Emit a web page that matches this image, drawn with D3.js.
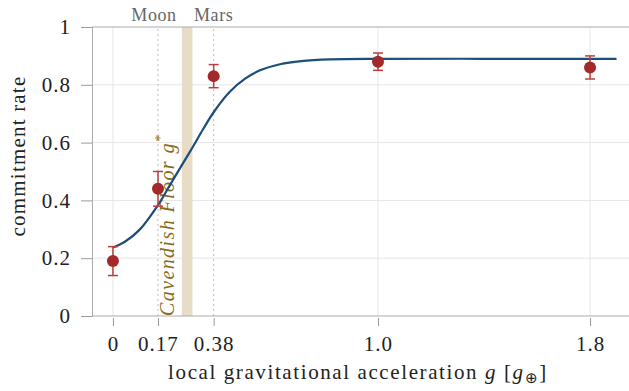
<!DOCTYPE html>
<html>
<head>
<meta charset="utf-8">
<script src="https://cdn.jsdelivr.net/npm/d3@7"></script>
<style>
  body { margin: 0; background: #fff; }
  text { font-family: "Liberation Serif", serif; }
</style>
</head>
<body>
<script>
// observed commitment rates
const gValues = [0, 0.17, 0.38, 1.0, 1.8];
const rates = [0.19, 0.44, 0.83, 0.88, 0.86];
const rateErr = [0.05, 0.06, 0.04, 0.03, 0.04];

// fitted curve
const curveX = [0, 0.045, 0.10, 0.17, 0.215, 0.26, 0.30, 0.34, 0.38, 0.44, 0.50, 0.555, 0.63, 0.71, 0.82, 1.0, 1.4, 1.9];
const curveY = [0.237, 0.257, 0.298, 0.384, 0.453, 0.522, 0.583, 0.646, 0.705, 0.775, 0.822, 0.850, 0.871, 0.882, 0.888, 0.89, 0.89, 0.89];

const xTicks = [0, 0.17, 0.38, 1.0, 1.8];
const xTickLabels = ["0", "0.17", "0.38", "1.0", "1.8"];
const yTicks = [0, 0.2, 0.4, 0.6, 0.8, 1];
const yTickLabels = ["0", "0.2", "0.4", "0.6", "0.8", "1"];
const planets = [{name: "Moon", g: 0.17}, {name: "Mars", g: 0.38}];
const floorBand = [0.26, 0.30];

const width = 629, height = 391;
const margin = {top: 27, right: 0, bottom: 75, left: 92};

const svg = d3.select("body").append("svg")
    .attr("width", width)
    .attr("height", height);

const x = d3.scaleLinear().domain([-0.079, 1.947]).range([margin.left, width - margin.right]);
const y = d3.scaleLinear().domain([0, 1]).range([height - margin.bottom, margin.top]);

// grid
svg.append("g").selectAll("line")
    .data([0.2, 0.4, 0.6, 0.8])
    .enter().append("line")
    .attr("x1", margin.left).attr("x2", width)
    .attr("y1", d => y(d)).attr("y2", d => y(d))
    .attr("stroke", "#e6e6e6").attr("stroke-width", 1);

svg.append("g").selectAll("line")
    .data([0, 1.0, 1.8])
    .enter().append("line")
    .attr("x1", d => x(d)).attr("x2", d => x(d))
    .attr("y1", y(0)).attr("y2", y(1))
    .attr("stroke", "#e6e6e6").attr("stroke-width", 1);

// cavendish floor band
svg.append("rect")
    .attr("x", x(floorBand[0]))
    .attr("width", x(floorBand[1]) - x(floorBand[0]))
    .attr("y", y(1))
    .attr("height", y(0) - y(1))
    .attr("fill", "#e8dcc6");

// moon / mars reference lines
svg.append("g").selectAll("line")
    .data(planets)
    .enter().append("line")
    .attr("x1", d => x(d.g)).attr("x2", d => x(d.g))
    .attr("y1", y(0)).attr("y2", y(1))
    .attr("stroke", "#bdbdbd").attr("stroke-width", 1)
    .attr("stroke-dasharray", "2,3");

svg.append("g").selectAll("text")
    .data(planets)
    .enter().append("text")
    .attr("x", d => x(d.g))
    .attr("dx", (d, i) => i === 0 ? -4 : 0)
    .attr("y", 21)
    .attr("text-anchor", "middle")
    .attr("fill", "#666")
    .attr("font-size", 18)
    .attr("letter-spacing", 0.6)
    .text(d => d.name);

// frame
svg.append("line")
    .attr("x1", margin.left).attr("x2", width)
    .attr("y1", y(1)).attr("y2", y(1))
    .attr("stroke", "#aaa");
svg.append("line")
    .attr("x1", margin.left).attr("x2", width)
    .attr("y1", y(0)).attr("y2", y(0))
    .attr("stroke", "#aaa");

// axes
const yAxis = svg.append("g")
    .attr("transform", `translate(${margin.left},0)`)
    .call(d3.axisLeft(y).tickValues(yTicks).tickFormat((d, i) => yTickLabels[i]).tickSize(11).tickPadding(10));
yAxis.select(".domain").attr("stroke", "#aaa");
yAxis.selectAll(".tick line").attr("stroke", "#999");
yAxis.selectAll(".tick text").attr("font-size", 21).attr("fill", "#222")
    .attr("font-family", "Liberation Serif").attr("letter-spacing", 1);

const xAxis = svg.append("g")
    .attr("transform", `translate(0,${y(0) + 2})`)
    .call(d3.axisBottom(x).tickValues(xTicks).tickFormat((d, i) => xTickLabels[i]).tickSize(8).tickPadding(10));
xAxis.select(".domain").remove();
xAxis.selectAll(".tick line").attr("stroke", "#999");
xAxis.selectAll(".tick text").attr("font-size", 21).attr("fill", "#222")
    .attr("font-family", "Liberation Serif").attr("letter-spacing", 1);

// axis titles
svg.append("text")
    .attr("transform", "translate(25,156) rotate(-90)")
    .attr("text-anchor", "middle")
    .attr("font-size", 21)
    .attr("letter-spacing", 1.2)
    .attr("fill", "#222")
    .text("commitment rate");

const xt = svg.append("text")
    .attr("x", 358)
    .attr("y", 379)
    .attr("text-anchor", "middle")
    .attr("font-size", 21)
    .attr("letter-spacing", 1.6)
    .attr("fill", "#222");
xt.append("tspan").text("local gravitational acceleration ");
xt.append("tspan").attr("font-style", "italic").text("g");
xt.append("tspan").text(" [");
xt.append("tspan").attr("font-style", "italic").text("g");
xt.append("tspan").attr("font-size", 15).attr("dy", 4).text("⊕");
xt.append("tspan").attr("dy", -4).text("]");

// cavendish label
const cav = svg.append("text")
    .attr("transform", `translate(${x(0.17) + 16},${y(0)}) rotate(-90)`)
    .attr("font-size", 20)
    .attr("font-style", "italic")
    .attr("letter-spacing", 1.4)
    .attr("fill", "#8a6a1c");
cav.append("tspan").text("Cavendish Floor g");
cav.append("tspan").attr("font-size", 14).attr("dy", -9).text("*");

// fitted curve
const line = d3.line()
    .x(d => x(d[0]))
    .y(d => y(d[1]))
    .curve(d3.curveCatmullRom);

svg.append("path")
    .datum(d3.zip(curveX, curveY))
    .attr("d", line)
    .attr("fill", "none")
    .attr("stroke", "#1d4e79")
    .attr("stroke-width", 2.2);

// error bars
const pts = gValues.map((g, i) => ({g: g, r: rates[i], e: rateErr[i]}));
const eb = svg.append("g").attr("stroke", "#b5403f").attr("stroke-width", 1.5);
eb.selectAll(".stem").data(pts).enter().append("line")
    .attr("x1", d => x(d.g)).attr("x2", d => x(d.g))
    .attr("y1", d => y(d.r - d.e)).attr("y2", d => y(d.r + d.e));
eb.selectAll(".capt").data(pts).enter().append("line")
    .attr("x1", d => x(d.g) - 5).attr("x2", d => x(d.g) + 5)
    .attr("y1", d => y(d.r + d.e)).attr("y2", d => y(d.r + d.e));
eb.selectAll(".capb").data(pts).enter().append("line")
    .attr("x1", d => x(d.g) - 5).attr("x2", d => x(d.g) + 5)
    .attr("y1", d => y(d.r - d.e)).attr("y2", d => y(d.r - d.e));

svg.append("g").selectAll("circle")
    .data(pts)
    .enter().append("circle")
    .attr("cx", d => x(d.g))
    .attr("cy", d => y(d.r))
    .attr("r", 6)
    .attr("fill", "#a3292a");
</script>
</body>
</html>
